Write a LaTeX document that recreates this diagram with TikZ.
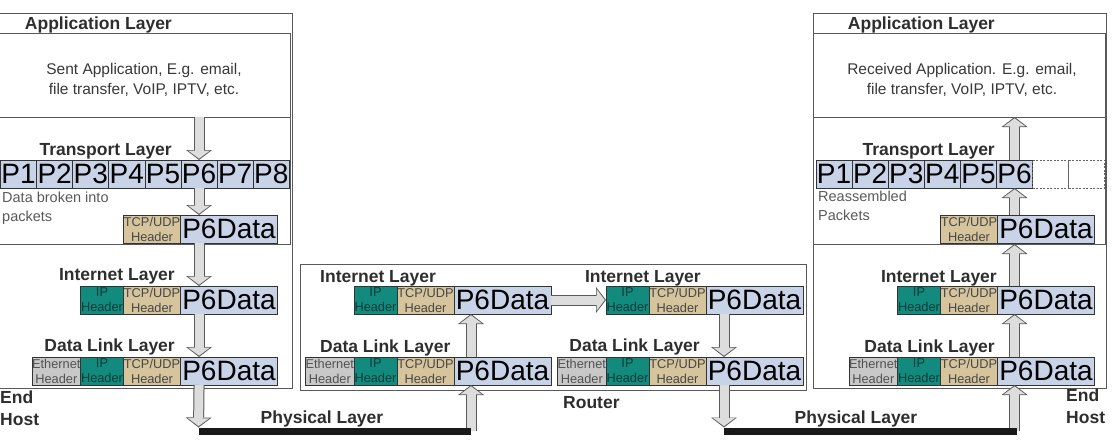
\documentclass[tikz,border=0pt]{standalone}
\usepackage{fontspec}
\setmainfont{Liberation Sans}
\usetikzlibrary{arrows.meta,positioning}

\definecolor{pblue}{HTML}{C8D3E8}
\definecolor{ipteal}{HTML}{128A7E}
\definecolor{tcptan}{HTML}{D6C59C}
\definecolor{ethgray}{HTML}{C8C8C8}
\definecolor{arrfill}{HTML}{DDDDDD}

\begin{document}
\begin{tikzpicture}[x=1pt, y=-1pt,
  layer/.style={font=\fontsize{17.5}{22}\selectfont\bfseries, text=black!82, inner sep=0pt},
  note/.style={font=\fontsize{14.5}{19}\selectfont, text=black!65, align=left, inner sep=0pt},
  apptext/.style={font=\fontsize{15.5}{20}\selectfont, text=black!78, align=center, inner sep=0pt},
  frame/.style={draw=black!65, line width=1pt, outer sep=0pt, inner sep=0pt},
  box/.style={draw=black!80, line width=0.8pt, outer sep=0pt, inner sep=0pt, minimum height=28pt},
  pcell/.style={box, fill=pblue, minimum width=36.1pt, font=\fontsize{28}{28}\selectfont},
  gapcell/.style={box, draw=black!60, dash pattern=on 2pt off 1.5pt, minimum width=36.1pt},
  datacell/.style={box, fill=pblue, minimum width=97pt, font=\fontsize{28}{28}\selectfont},
  hdr/.style={box, align=center, font=\fontsize{12.8}{15}\selectfont},
  tcphdr/.style={hdr, fill=tcptan, minimum width=57pt, text=black!72},
  iphdr/.style={hdr, fill=ipteal, minimum width=43pt, text=ipteal!45!black},
  ethhdr/.style={hdr, fill=ethgray, minimum width=48pt, text=black!68},
  fat/.style={draw=black!65, line width=11pt,
    -{Triangle[length=10pt, width=26pt, line width=0pt]},
    postaction={draw=arrfill, line width=9pt,
      -{Triangle[length=8pt, width=21.5pt, line width=0pt]}, shorten >=1.3pt}},
  wire/.style={draw=black!90, line width=7pt},
]
\useasboundingbox (0,0) rectangle (1114,444);

% left end host
\node[frame, anchor=north west, minimum width=295pt, minimum height=374pt] (lhost) at (-3,14) {};
\node[frame, anchor=north west, minimum width=293pt, minimum height=83pt] (lapp) at (-3,34) {};
\node[frame, anchor=north west, minimum width=293pt, minimum height=127pt] (ltrans) at (-3,117) {};
\node[layer, anchor=base east] (lapplbl) at (172,30) {Application Layer};
\node[apptext] (lapptxt) at (144,80) {Sent Application, E.g. email,\\file transfer, VoIP, IPTV, etc.};

\node[layer, anchor=base east] (ltranslbl) at (172,155) {Transport Layer};
\node[pcell, anchor=north west] (lp1) at (0.5,160) {P1};
\node[pcell, right=0pt of lp1] (lp2) {P2};
\node[pcell, right=0pt of lp2] (lp3) {P3};
\node[pcell, right=0pt of lp3] (lp4) {P4};
\node[pcell, right=0pt of lp4] (lp5) {P5};
\node[pcell, right=0pt of lp5] (lp6) {P6};
\node[pcell, right=0pt of lp6] (lp7) {P7};
\node[pcell, right=0pt of lp7] (lp8) {P8};
\node[note, anchor=north west] (lnote) at (2,191.5) {Data broken into\\packets};
\node[datacell, anchor=north west] (ltd) at (180.5,215) {P6Data};
\node[tcphdr, left=0pt of ltd] (ltt) {TCP/UDP\\Header};

\node[layer, anchor=base east] (linetlbl) at (175,280.5) {Internet Layer};
\node[datacell, anchor=north west] (lid) at (180.5,286) {P6Data};
\node[tcphdr, left=0pt of lid] (lit) {TCP/UDP\\Header};
\node[iphdr, left=0pt of lit] (lii) {IP\\Header};

\node[layer, anchor=base east] (llinklbl) at (175,351.5) {Data Link Layer};
\node[datacell, anchor=north west] (lld) at (180.5,357) {P6Data};
\node[tcphdr, left=0pt of lld] (llt) {TCP/UDP\\Header};
\node[iphdr, left=0pt of llt] (lli) {IP\\Header};
\node[ethhdr, left=0pt of lli] (lle) {Ethernet\\Header};
\node[layer, anchor=north west, align=left] (lend) at (0,391) {End\\Host};

% router
\node[frame, anchor=north west, minimum width=506pt, minimum height=126pt] (router) at (300,264) {};
\node[layer, anchor=base west] (r1inetlbl) at (320,282) {Internet Layer};
\node[datacell, anchor=north west] (r1id) at (454,286) {P6Data};
\node[tcphdr, left=0pt of r1id] (r1it) {TCP/UDP\\Header};
\node[iphdr, left=0pt of r1it] (r1ii) {IP\\Header};
\node[layer, anchor=base west] (r1linklbl) at (320,352) {Data Link Layer};
\node[datacell, anchor=north west] (r1ld) at (454,357) {P6Data};
\node[tcphdr, left=0pt of r1ld] (r1lt) {TCP/UDP\\Header};
\node[iphdr, left=0pt of r1lt] (r1li) {IP\\Header};
\node[ethhdr, left=0pt of r1li] (r1le) {Ethernet\\Header};

\node[layer, anchor=base east] (r2inetlbl) at (701,282) {Internet Layer};
\node[datacell, anchor=north west] (r2id) at (706,286) {P6Data};
\node[tcphdr, left=0pt of r2id] (r2it) {TCP/UDP\\Header};
\node[iphdr, left=0pt of r2it] (r2ii) {IP\\Header};
\node[layer, anchor=base east] (r2linklbl) at (700,351.5) {Data Link Layer};
\node[datacell, anchor=north west] (r2ld) at (706,357) {P6Data};
\node[tcphdr, left=0pt of r2ld] (r2lt) {TCP/UDP\\Header};
\node[iphdr, left=0pt of r2lt] (r2li) {IP\\Header};
\node[ethhdr, left=0pt of r2li] (r2le) {Ethernet\\Header};
\node[layer, anchor=base west] (routerlbl) at (563,408.5) {Router};

% right end host
\node[frame, anchor=north west, minimum width=293pt, minimum height=374pt] (rhost) at (813,14) {};
\node[frame, anchor=north west, minimum width=292pt, minimum height=83pt] (rapp) at (813,34) {};
\node[frame, anchor=north west, minimum width=292pt, minimum height=127pt] (rtrans) at (813,117) {};
\node[layer, anchor=base east] (rapplbl) at (995,30) {Application Layer};
\node[apptext] (rapptxt) at (962,80) {Received Application. E.g. email,\\file transfer, VoIP, IPTV, etc.};

\node[layer, anchor=base east] (rtranslbl) at (995,155) {Transport Layer};
\node[pcell, anchor=north west] (rp1) at (816,160) {P1};
\node[pcell, right=0pt of rp1] (rp2) {P2};
\node[pcell, right=0pt of rp2] (rp3) {P3};
\node[pcell, right=0pt of rp3] (rp4) {P4};
\node[pcell, right=0pt of rp4] (rp5) {P5};
\node[pcell, right=0pt of rp5] (rp6) {P6};
\node[gapcell, right=0pt of rp6] (rp7) {};
\node[gapcell, right=0pt of rp7] (rp8) {};
\node[note, anchor=north west] (rnote) at (818,191) {Reassembled\\Packets};
\node[datacell, anchor=north west] (rtd) at (997.5,215) {P6Data};
\node[tcphdr, left=0pt of rtd] (rtt) {TCP/UDP\\Header};

\node[layer, anchor=base east] (rinetlbl) at (997,282) {Internet Layer};
\node[datacell, anchor=north west] (rid) at (997.5,286) {P6Data};
\node[tcphdr, left=0pt of rid] (rit) {TCP/UDP\\Header};
\node[iphdr, left=0pt of rit] (rii) {IP\\Header};
\node[layer, anchor=base east] (rlinklbl) at (995,352) {Data Link Layer};
\node[datacell, anchor=north west] (rld) at (997.5,357) {P6Data};
\node[tcphdr, left=0pt of rld] (rlt) {TCP/UDP\\Header};
\node[iphdr, left=0pt of rlt] (rli) {IP\\Header};
\node[ethhdr, left=0pt of rli] (rle) {Ethernet\\Header};
\node[layer, anchor=north west, align=left] (rend) at (1066,389) {End\\Host};

% physical layer
\coordinate (w1) at (198.55,431);
\coordinate (w2) at (471,431);
\coordinate (w3) at (724,431);
\coordinate (w4) at (1017,431);
\node[layer, anchor=base] (lphylbl) at (322,423.5) {Physical Layer};
\node[layer, anchor=base] (rphylbl) at (856,423.5) {Physical Layer};

% sending host, down
\draw[fat] (lp6 |- lapp.south) -- (lp6.north);
\draw[fat] (lp6.south) -- (lp6 |- ltd.north);
\draw[fat] (lp6 |- ltd.south) -- (lp6 |- lid.north);
\draw[fat] (lp6 |- lid.south) -- (lp6 |- lld.north);
\draw[fat] (lp6 |- lld.south) -- ([yshift=3.5pt]w1);

% router
\draw[fat] (w2) -- (w2 |- r1ld.south);
\draw[fat] (w2 |- r1ld.north) -- (w2 |- r1id.south);
\draw[fat] (r1id.east) -- (r2ii.west);
\draw[fat] (w3 |- r2id.south) -- (w3 |- r2ld.north);
\draw[fat] (w3 |- r2ld.south) -- ([yshift=3.5pt]w3);

% receiving host, up
\draw[fat] (rp6 |- w4) -- (rp6 |- rld.south);
\draw[fat] (rp6 |- rld.north) -- (rp6 |- rid.south);
\draw[fat] (rp6 |- rid.north) -- (rp6 |- rtrans.south);
\draw[fat] (rp6 |- rtd.north) -- (rp6.south);
\draw[fat] (rp6.north) -- (rp6 |- rapp.south);

\draw[wire] (w1) -- (w2);
\draw[wire] (w3) -- (w4);

\end{tikzpicture}
\end{document}
